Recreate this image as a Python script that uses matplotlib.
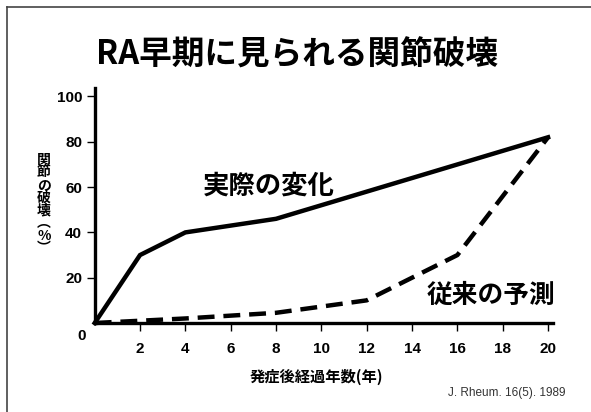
import matplotlib.pyplot as plt
from matplotlib.lines import Line2D

plt.rcParams['font.family'] = ['Noto Sans CJK JP', 'DejaVu Sans']

# years since onset
years_actual = [0, 2, 4, 8, 20]
damage_actual = [0, 30, 40, 46, 82]

years_expected = [0, 2, 4, 8, 12, 16, 20]
damage_expected = [0, 1, 2, 4.5, 10, 30, 82]

xticks = [2, 4, 6, 8, 10, 12, 14, 16, 18, 20]
yticks = [20, 40, 60, 80, 100]

W, H = 591, 412
fig = plt.figure(figsize=(W / 100, H / 100), dpi=100)
ax = fig.add_axes([94.7 / W, 1 - 323 / H, (552.6 - 94.7) / W, (323 - 88) / H])

ax.plot(years_actual, damage_actual, color='black', lw=3.2,
        solid_joinstyle='miter', clip_on=False)
ax.plot(years_expected, damage_expected, color='black', lw=3.2,
        dashes=(3.8, 2.0), clip_on=False)

ax.set_xlim(0, 20.2)
ax.set_ylim(0, 103.75)
ax.set_xticks(xticks)
ax.set_yticks(yticks)
ax.set_xticklabels([str(v) for v in xticks], family='Liberation Sans',
                   fontweight='bold', fontsize=11)
ax.set_yticklabels([str(v) for v in yticks], family='Liberation Sans',
                   fontweight='bold', fontsize=11)
ax.tick_params(axis='x', length=6, width=1, pad=8, direction='out')
ax.tick_params(axis='y', length=6, width=1, pad=3, direction='out')
for s in ['top', 'right']:
    ax.spines[s].set_visible(False)
for s in ['left', 'bottom']:
    ax.spines[s].set_linewidth(2.4)

# origin label sits below-left of the corner
fig.text(82 / W, 1 - 336 / H, '0', family='Liberation Sans', fontweight='bold',
         fontsize=11, ha='center', va='center')

# series labels
ax.text(7.7, 60.5, '実際の変化', fontsize=19, fontweight='bold', ha='center', va='center')
ax.text(17.5, 12.4, '従来の予測', fontsize=18.5, fontweight='bold', ha='center', va='center')

# axis titles
fig.text(316 / W, 1 - 377 / H, '発症後経過年数(年)', fontsize=11,
         fontweight='bold', ha='center', va='center')
fig.text(44 / W, 1 - 204 / H, '\n'.join('関節の破壊︵%︶'), fontsize=10,
         fontweight='bold', ha='center', va='center', linespacing=0.88)

fig.text(297 / W, 1 - 55 / H, 'RA早期に見られる関節破壊', fontsize=23.5,
         fontweight='bold', ha='center', va='center')
fig.text(565 / W, 1 - 393 / H, 'J. Rheum. 16(5). 1989', family='Liberation Sans',
         fontsize=8.5, color='#333333', ha='right', va='center')

# slide frame along the left and top edges
fig.add_artist(Line2D([7 / W, 7 / W], [0, 1 - 7 / H], transform=fig.transFigure,
                      color='#444444', lw=1.2))
fig.add_artist(Line2D([7 / W, 1], [1 - 7 / H, 1 - 7 / H], transform=fig.transFigure,
                      color='#444444', lw=1.2))

fig.savefig('out.png', dpi=100)
